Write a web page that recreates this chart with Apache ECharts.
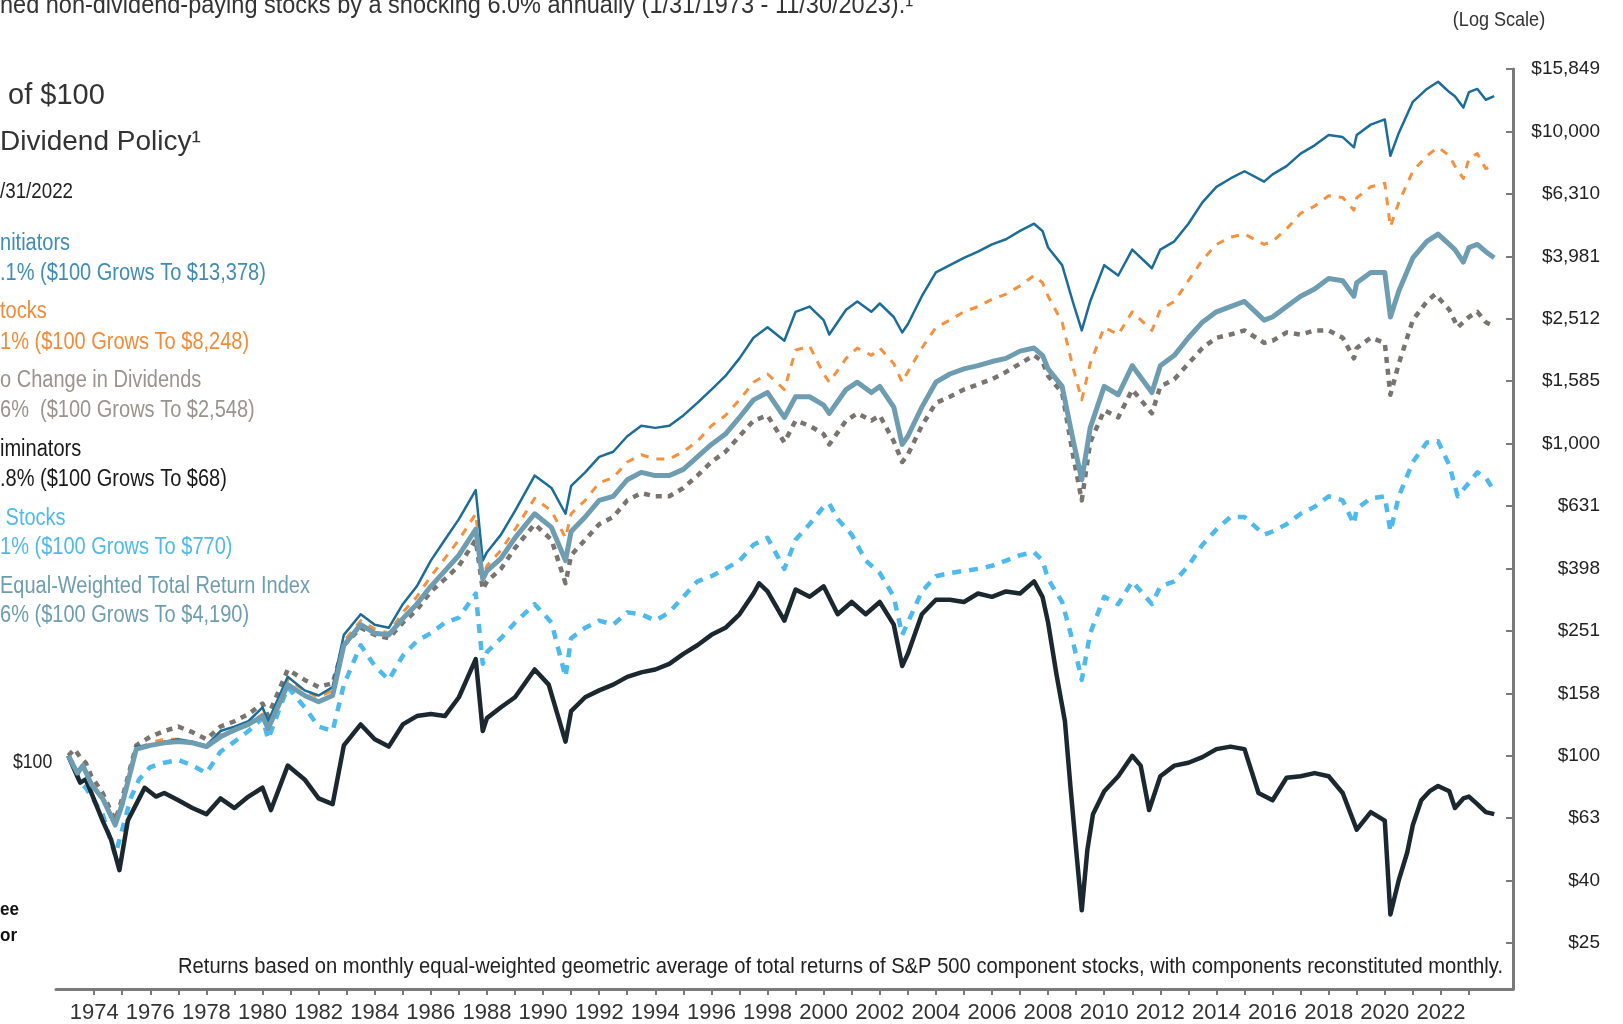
<!DOCTYPE html>
<html>
<head>
<meta charset="utf-8">
<script src="https://cdn.jsdelivr.net/npm/echarts@6/dist/echarts.min.js"></script>
<style>
html,body{margin:0;padding:0;background:#fff;}
#chart{width:1623px;height:1024px;}
</style>
</head>
<body>
<div id="chart"></div>
<script>
// ---------- DATA (decimal year, growth of $100) ----------
const growers = [[1973.08,100],[1973.4,86],[1973.6,93],[1973.9,80],[1974.3,73],[1974.75,60],[1975.0,70],[1975.5,107],[1976,108],[1976.5,111],[1977,113],[1977.5,111],[1978,108],[1978.5,120],[1979,124],[1979.5,129],[1980,143],[1980.2,129],[1980.9,179],[1981.5,162],[1982,156],[1982.5,166],[1982.9,244],[1983.5,284],[1984,263],[1984.5,257],[1985,306],[1985.5,349],[1986,422],[1986.5,492],[1987,573],[1987.6,710],[1987.85,422],[1988,449],[1988.5,511],[1989,609],[1989.7,790],[1990.3,721],[1990.8,596],[1991,732],[1991.5,809],[1992,907],[1992.5,942],[1993,1056],[1993.5,1141],[1994,1123],[1994.5,1141],[1995,1231],[1995.5,1350],[1996,1490],[1996.5,1647],[1997,1875],[1997.5,2184],[1998,2358],[1998.6,2135],[1999,2644],[1999.5,2748],[2000,2487],[2000.2,2236],[2000.8,2685],[2001.2,2854],[2001.7,2644],[2002,2811],[2002.5,2545],[2002.8,2270],[2003,2413],[2003.5,2966],[2004,3536],[2004.5,3730],[2005,3936],[2005.5,4121],[2006,4346],[2006.5,4515],[2007,4801],[2007.5,5064],[2007.8,4801],[2008,4249],[2008.5,3730],[2008.9,2811],[2009.2,2305],[2009.5,2854],[2010,3730],[2010.5,3456],[2011,4184],[2011.7,3646],[2012,4184],[2012.5,4446],[2013,5064],[2013.5,5929],[2014,6648],[2014.5,7069],[2015,7457],[2015.7,6908],[2016,7287],[2016.5,7746],[2017,8492],[2017.5,9029],[2018,9743],[2018.5,9596],[2018.9,8890],[2019,9743],[2019.5,10517],[2020,10927],[2020.2,8362],[2020.5,9892],[2021,12440],[2021.5,13683],[2021.9,14433],[2022.3,13372],[2022.5,12969],[2022.8,11925],[2023,13372],[2023.3,13683],[2023.6,12634],[2023.9,12969]];

const allPayers = [[1973.08,100],[1973.4,88],[1973.6,93],[1973.9,82],[1974.3,74],[1974.75,61],[1975.0,72],[1975.5,105],[1976,110],[1976.5,113],[1977,113],[1977.5,110],[1978,107],[1978.5,117],[1979,120],[1979.5,126],[1980,136],[1980.2,124],[1980.9,175],[1981.5,162],[1982,154],[1982.5,162],[1982.9,233],[1983.5,271],[1984,255],[1984.5,247],[1985,288],[1985.5,323],[1986,376],[1986.5,429],[1987,492],[1987.6,596],[1987.85,376],[1988,406],[1988.5,456],[1989,531],[1989.7,668],[1990.3,609],[1990.8,499],[1991,596],[1991.5,658],[1992,749],[1992.5,778],[1993,873],[1993.5,921],[1994,893],[1994.5,893],[1995,942],[1995.5,1017],[1996,1141],[1996.5,1231],[1997,1381],[1997.5,1573],[1998,1671],[1998.6,1490],[1999,1993],[1999.5,2055],[2000,1671],[2000.2,1573],[2000.8,1875],[2001.2,2024],[2001.7,1918],[2002,2024],[2002.5,1804],[2002.8,1573],[2003,1697],[2003.5,2024],[2004,2358],[2004.5,2487],[2005,2644],[2005.5,2748],[2006,2899],[2006.5,3012],[2007,3202],[2007.5,3456],[2007.8,3276],[2008,2966],[2008.5,2449],[2008.9,1736],[2009.2,1381],[2009.5,1804],[2010,2358],[2010.5,2236],[2011,2644],[2011.7,2305],[2012,2685],[2012.5,2854],[2013,3326],[2013.5,3876],[2014,4346],[2014.5,4586],[2015,4692],[2015.7,4346],[2016,4446],[2016.5,4875],[2017,5466],[2017.5,5768],[2018,6226],[2018.5,6140],[2018.9,5594],[2019,6131],[2019.5,6648],[2020,6823],[2020.2,4950],[2020.5,5929],[2021,7457],[2021.5,8362],[2021.9,8890],[2022.3,8362],[2022.5,7746],[2022.8,7069],[2023,8198],[2023.3,8492],[2023.6,7594],[2023.9,7830]];

const noChange = [[1973.08,100],[1973.3,105],[1973.5,99],[1973.7,95],[1973.9,86],[1974.3,76],[1974.75,62],[1975.0,73],[1975.5,108],[1976,115],[1976.5,120],[1977,124],[1977.5,119],[1978,113],[1978.5,124],[1979,129],[1979.5,136],[1980,147],[1980.2,134],[1980.9,189],[1981.5,175],[1982,166],[1982.5,171],[1982.9,226],[1983.5,257],[1984,244],[1984.5,238],[1985,267],[1985.5,293],[1986,336],[1986.5,368],[1987,406],[1987.6,492],[1987.85,341],[1988,362],[1988.5,397],[1989,463],[1989.7,552],[1990.3,492],[1990.8,357],[1991,439],[1991.5,492],[1992,552],[1992.5,582],[1993,658],[1993.5,694],[1994,678],[1994.5,678],[1995,721],[1995.5,790],[1996,873],[1996.5,942],[1997,1056],[1997.5,1185],[1998,1231],[1998.6,1009],[1999,1185],[1999.5,1141],[2000,1073],[2000.2,994],[2000.8,1185],[2001.2,1250],[2001.7,1185],[2002,1231],[2002.5,1017],[2002.8,873],[2003,921],[2003.5,1141],[2004,1350],[2004.5,1413],[2005,1490],[2005.5,1548],[2006,1609],[2006.5,1697],[2007,1804],[2007.5,1918],[2007.8,1832],[2008,1647],[2008.5,1457],[2008.9,907],[2009.2,658],[2009.5,1009],[2010,1279],[2010.5,1213],[2011,1490],[2011.7,1250],[2012,1525],[2012.5,1609],[2013,1804],[2013.5,2024],[2014,2184],[2014.5,2236],[2015,2305],[2015.7,2102],[2016,2135],[2016.5,2270],[2017,2236],[2017.5,2305],[2018,2305],[2018.5,2184],[2018.9,1875],[2019,2024],[2019.5,2184],[2020,2102],[2020.2,1434],[2020.5,1804],[2021,2487],[2021.5,2854],[2021.8,3012],[2022.3,2685],[2022.6,2358],[2023,2545],[2023.3,2644],[2023.6,2449],[2023.9,2376]];

const cutters = [[1973.08,100],[1973.3,90],[1973.5,82],[1973.7,84],[1973.9,76],[1974.3,62],[1974.6,54],[1974.9,43],[1975.2,62],[1975.5,70],[1975.8,79],[1976.2,74],[1976.5,76],[1977,72],[1977.5,68],[1978,65],[1978.5,73],[1979,68],[1979.5,74],[1980,79],[1980.3,67],[1980.9,93],[1981.5,84],[1982,73],[1982.5,70],[1982.9,108],[1983.5,126],[1984,113],[1984.5,107],[1985,126],[1985.5,134],[1986,136],[1986.5,134],[1987,154],[1987.6,204],[1987.85,120],[1988,132],[1988.5,143],[1989,154],[1989.7,189],[1990.2,169],[1990.8,111],[1991,139],[1991.5,154],[1992,162],[1992.5,169],[1993,179],[1993.5,185],[1994,189],[1994.5,197],[1995,212],[1995.5,226],[1996,244],[1996.5,257],[1997,284],[1997.5,331],[1997.7,357],[1998,336],[1998.6,271],[1999,341],[1999.5,323],[2000,349],[2000.5,284],[2001,311],[2001.5,284],[2002,311],[2002.5,263],[2002.8,194],[2003,212],[2003.5,284],[2004,316],[2004.5,316],[2005,311],[2005.5,331],[2006,323],[2006.5,336],[2007,331],[2007.5,362],[2007.8,323],[2008,267],[2008.3,182],[2008.6,129],[2008.8,79],[2009.0,50],[2009.2,32],[2009.4,50],[2009.6,65],[2010,77],[2010.5,86],[2011,100],[2011.3,93],[2011.6,67],[2012,86],[2012.5,93],[2013,95],[2013.5,99],[2014,105],[2014.5,107],[2015,105],[2015.5,76],[2016,72],[2016.5,85],[2017,86],[2017.5,88],[2018,86],[2018.5,76],[2019,58],[2019.5,66],[2020,62],[2020.2,31],[2020.5,40],[2020.8,49],[2021,60],[2021.3,72],[2021.6,77],[2021.9,80],[2022.3,77],[2022.5,68],[2022.8,73],[2023,74],[2023.3,70],[2023.6,66],[2023.9,65]];

const nonPayers = [[1973.08,100],[1973.3,92],[1973.5,82],[1973.7,79],[1973.9,74],[1974.3,65],[1974.75,48],[1975.0,58],[1975.3,73],[1975.6,84],[1976,92],[1976.5,95],[1977,97],[1977.5,93],[1978,88],[1978.5,103],[1979,111],[1979.5,120],[1980,132],[1980.2,113],[1980.9,166],[1981.5,143],[1982,124],[1982.5,120],[1982.9,169],[1983.5,226],[1984,194],[1984.5,175],[1985,209],[1985.5,233],[1986,247],[1986.5,267],[1987,277],[1987.6,331],[1987.85,197],[1988,215],[1988.5,238],[1989,267],[1989.7,306],[1990.3,267],[1990.8,179],[1991,238],[1991.5,257],[1992,271],[1992.5,263],[1993,288],[1993.5,284],[1994,271],[1994.5,288],[1995,323],[1995.5,362],[1996,376],[1996.5,397],[1997,422],[1997.5,474],[1998,499],[1998.6,397],[1999,492],[1999.5,552],[2000,628],[2000.2,643],[2000.5,573],[2001,511],[2001.5,422],[2002,385],[2002.5,323],[2002.8,244],[2003,267],[2003.5,336],[2004,376],[2004.5,385],[2005,391],[2005.5,397],[2006,406],[2006.5,422],[2007,439],[2007.5,449],[2007.8,422],[2008,368],[2008.5,311],[2008.9,229],[2009.2,175],[2009.5,247],[2010,323],[2010.5,306],[2011,362],[2011.7,306],[2012,349],[2012.5,362],[2013,406],[2013.5,474],[2014,531],[2014.5,582],[2015,582],[2015.7,511],[2016,523],[2016.5,552],[2017,596],[2017.5,628],[2018,678],[2018.5,658],[2018.9,552],[2019,619],[2019.5,668],[2020,678],[2020.2,523],[2020.5,678],[2021,873],[2021.5,1009],[2021.9,1017],[2022.3,853],[2022.6,678],[2023,749],[2023.3,809],[2023.6,778],[2023.9,705]];

const equalWeighted = [[1973.08,100],[1973.4,88],[1973.6,93],[1973.9,81],[1974.3,73],[1974.75,60],[1975.0,70],[1975.5,105],[1976,108],[1976.5,110],[1977,111],[1977.5,110],[1978,107],[1978.5,115],[1979,121],[1979.5,126],[1980,134],[1980.2,122],[1980.9,169],[1981.5,156],[1982,149],[1982.5,156],[1982.9,226],[1983.5,263],[1984,247],[1984.5,244],[1985,275],[1985.5,306],[1986,349],[1986.5,391],[1987,439],[1987.6,531],[1987.85,368],[1988,391],[1988.5,429],[1989,499],[1989.7,596],[1990.3,539],[1990.8,422],[1991,523],[1991.5,582],[1992,658],[1992.5,678],[1993,766],[1993.5,809],[1994,790],[1994.5,790],[1995,827],[1995.5,907],[1996,994],[1996.5,1073],[1997,1213],[1997.5,1381],[1998,1457],[1998.6,1213],[1999,1413],[1999.5,1413],[2000,1329],[2000.2,1250],[2000.8,1490],[2001.2,1573],[2001.7,1457],[2002,1525],[2002.5,1309],[2002.8,994],[2003,1056],[2003.5,1309],[2004,1573],[2004.5,1671],[2005,1736],[2005.5,1777],[2006,1832],[2006.5,1875],[2007,1978],[2007.5,2024],[2007.8,1918],[2008,1736],[2008.5,1525],[2008.9,1017],[2009.2,766],[2009.5,1123],[2010,1525],[2010.5,1434],[2011,1777],[2011.7,1457],[2012,1777],[2012.5,1918],[2013,2184],[2013.5,2449],[2014,2644],[2014.5,2748],[2015,2854],[2015.7,2487],[2016,2545],[2016.5,2748],[2017,2966],[2017.5,3129],[2018,3378],[2018.5,3326],[2018.9,2966],[2019,3276],[2019.5,3536],[2020,3536],[2020.2,2545],[2020.5,3081],[2021,3936],[2021.5,4446],[2021.9,4692],[2022.3,4346],[2022.5,4184],[2022.8,3817],[2023,4249],[2023.3,4346],[2023.6,4121],[2023.9,3936]];

// ---------- AXIS TICKS / LABELS ----------
const yTickValues = [25.12, 39.81, 63.10, 100, 158.5, 251.2, 398.1, 631.0, 1000, 1585, 2512, 3981, 6310, 10000, 15849];
const yTickLabels = ['$25','$40','$63','$100','$158','$251','$398','$631','$1,000','$1,585','$2,512','$3,981','$6,310','$10,000','$15,849'];
const xTickYears = [1974,1975,1976,1977,1978,1979,1980,1981,1982,1983,1984,1985,1986,1987,1988,1989,1990,1991,1992,1993,1994,1995,1996,1997,1998,1999,2000,2001,2002,2003,2004,2005,2006,2007,2008,2009,2010,2011,2012,2013,2014,2015,2016,2017,2018,2019,2020,2021,2022,2023];
const xLabelYears = [1974,1976,1978,1980,1982,1984,1986,1988,1990,1992,1994,1996,1998,2000,2002,2004,2006,2008,2010,2012,2014,2016,2018,2020,2022];

// ---------- TEXTS ----------
const topText = 'ned non-dividend-paying stocks by a shocking 6.0% annually (1/31/1973 - 11/30/2023).¹';
const titleLines = [' of $100', 'Dividend Policy¹', '/31/2022'];
const legendLines = [
  ['nitiators', '.1% ($100 Grows To $13,378)'],
  ['tocks', '1% ($100 Grows To $8,248)'],
  ['o Change in Dividends', '6%  ($100 Grows To $2,548)'],
  ['iminators', '.8% ($100 Grows To $68)'],
  [' Stocks', '1% ($100 Grows To $770)'],
  ['Equal-Weighted Total Return Index', '6% ($100 Grows To $4,190)']
];
const footnote = 'Returns based on monthly equal-weighted geometric average of total returns of S&P 500 component stocks, with components reconstituted monthly.';

const REG = "'Liberation Sans',Arial,sans-serif";
const legendColors = ['#3f8cb6', '#f28a38', '#9a938e', '#1a1a1a', '#4fbaea', '#6e9db0'];
const legendY = [[244, 274], [312, 343], [381, 411], [450, 480], [519, 548], [587, 616]];

const measureCtx = document.createElement('canvas').getContext('2d');
function fitScale(text, font, width) {
  measureCtx.font = font;
  return width / measureCtx.measureText(text).width;
}
function txt(text, x, y, size, color, opts) {
  opts = opts || {};
  const font = (opts.weight ? opts.weight + ' ' : '') + size + 'px ' + (opts.family || REG);
  const sx = opts.width ? fitScale(text, font, opts.width) : (opts.scaleX || 1);
  return {type:'text', x, y, scaleX: sx, originX: 0, originY: 0, silent: true,
    style:{x:0, y:0, text, font, fill: color, align: opts.align || 'left', verticalAlign:'middle'}};
}

const graphics = [];
graphics.push(txt(topText, 0, 6, 25, '#333', {width: 913}));
graphics.push(txt(titleLines[0], 0, 96, 29, '#333'));
graphics.push(txt(titleLines[1], 0, 142, 28, '#333'));
graphics.push(txt(titleLines[2], 0, 192, 22, '#222', {width: 73}));
const LEG_SCALE = 0.87;
legendLines.forEach((pair, i) => {
  graphics.push(txt(pair[0], 0, legendY[i][0], 23, legendColors[i], {scaleX: LEG_SCALE}));
  graphics.push(txt(pair[1], 0, legendY[i][1], 23, legendColors[i], {scaleX: LEG_SCALE}));
});
graphics.push(txt('$100', 13, 762, 21, '#222', {scaleX: 0.84}));
graphics.push(txt('ee', 0, 910, 19, '#111', {weight:'bold', scaleX: 0.9}));
graphics.push(txt('or', 0, 936, 19, '#111', {weight:'bold', scaleX: 0.9}));
graphics.push(txt('(Log Scale)', 1499, 20, 21, '#333', {scaleX: 0.86, align:'center'}));
graphics.push(txt(footnote, 178, 967, 22, '#222', {width: 1325}));

function lineSeries(name, data, color, width, dash, z) {
  return {
    name, type:'line', data, symbol:'none', showSymbol:false, silent:true, z,
    lineStyle:{color, width, type: dash ? dash : 'solid', cap:'butt', join:'round'}
  };
}

const chart = echarts.init(document.getElementById('chart'), null, {renderer:'canvas'});
chart.setOption({
  animation:false,
  backgroundColor:'#fff',
  grid:{left:56, right:110, top:69, bottom:35},
  xAxis:{
    type:'value', min:1972.64, max:2024.57,
    axisLine:{show:true, lineStyle:{color:'#7a7a7a', width:3}},
    axisTick:{show:true, customValues:xTickYears, length:6, lineStyle:{color:'#7a7a7a', width:2}},
    axisLabel:{show:true, customValues:xLabelYears, formatter:v => String(Math.round(v)), fontSize:22, fontFamily:REG, color:'#333', margin:13},
    splitLine:{show:false}
  },
  yAxis:{
    type:'log', logBase:10, min:17.9, max:15852, position:'right',
    axisLine:{show:true, onZero:false, lineStyle:{color:'#7a7a7a', width:3}},
    axisTick:{show:true, inside:true, customValues:yTickValues, length:7, lineStyle:{color:'#7a7a7a', width:2}},
    axisLabel:{show:true, customValues:yTickValues, align:'right', margin:87, fontSize:19, fontFamily:REG, color:'#222',
      formatter:v => { const i = Math.round((Math.log10(v) - Math.log10(yTickValues[0])) / 0.2); return yTickLabels[Math.max(0, Math.min(yTickLabels.length-1, i))]; }},
    splitLine:{show:false}
  },
  series:[
    lineSeries('Dividend Payers with No Change in Dividends', noChange, '#7a7470', 4.5, [6,6], 2),
    lineSeries('All Dividend-Paying Stocks', allPayers, '#f5913e', 3, [8,8], 3),
    lineSeries('Non-Dividend-Paying Stocks', nonPayers, '#4db9ec', 4.5, [9,8], 4),
    lineSeries('Dividend Growers and Initiators', growers, '#1c6c98', 2.5, null, 5),
    lineSeries('Dividend Cutters or Eliminators', cutters, '#1b2830', 4.5, null, 6),
    lineSeries('Equal-Weighted Total Return Index', equalWeighted, '#6e9db1', 5, null, 7)
  ],
  graphic: graphics
});
</script>
</body>
</html>
